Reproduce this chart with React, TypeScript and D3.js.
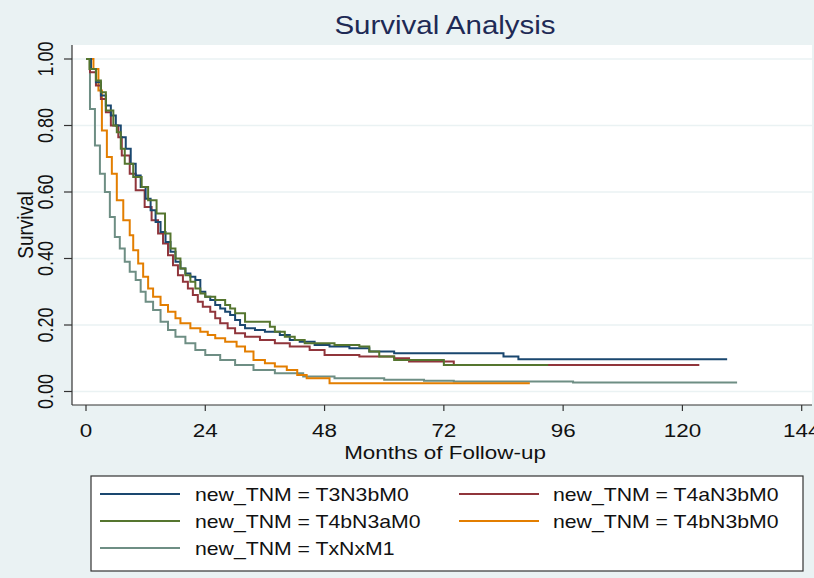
import React from "react";
import * as d3 from "d3";

// ---------- data ----------
const seriesNames = [
  "new_TNM = T3N3bM0",
  "new_TNM = T4aN3bM0",
  "new_TNM = T4bN3aM0",
  "new_TNM = T4bN3bM0",
  "new_TNM = TxNxM1",
];
const seriesColors = ["#1a476f", "#90353b", "#55752f", "#e37e00", "#6e8e84"];

const blueT = [0, 1, 2, 3, 4, 5, 6, 7, 8, 9, 10, 11, 12, 13, 14, 15, 16, 17, 18, 19, 20, 21, 22, 23, 24, 25, 26, 27, 28, 29, 30, 31, 32, 34, 36, 39, 41, 43, 46, 49, 53, 57, 62, 84, 87, 129];
const blueS = [1, 0.97, 0.93, 0.89, 0.86, 0.83, 0.8, 0.765, 0.73, 0.685, 0.65, 0.615, 0.58, 0.545, 0.51, 0.48, 0.45, 0.42, 0.39, 0.37, 0.355, 0.345, 0.335, 0.3, 0.285, 0.275, 0.26, 0.25, 0.24, 0.23, 0.215, 0.2, 0.19, 0.185, 0.18, 0.17, 0.155, 0.15, 0.14, 0.135, 0.13, 0.12, 0.115, 0.105, 0.097, 0.097];

const redT = [0, 0.8, 2, 3, 4, 5, 6.5, 7.2, 8.8, 10, 11.8, 13.2, 14.5, 15.5, 16.5, 17.5, 18.5, 19.5, 20.5, 21.5, 22.5, 23.5, 25, 26, 27, 28.5, 30, 32, 35, 38, 41, 45, 48, 55, 62, 65, 74, 123.4];
const redS = [1, 0.96, 0.92, 0.88, 0.84, 0.8, 0.765, 0.71, 0.655, 0.605, 0.555, 0.515, 0.475, 0.445, 0.41, 0.38, 0.35, 0.33, 0.31, 0.29, 0.27, 0.255, 0.24, 0.22, 0.205, 0.19, 0.175, 0.165, 0.155, 0.145, 0.135, 0.125, 0.11, 0.105, 0.1, 0.09, 0.08, 0.08];

const greenT = [0, 0.7, 2, 3, 4, 5.5, 6.2, 7, 7.8, 9.5, 11.2, 12.5, 14.2, 15.9, 17, 18, 19, 20, 21, 22, 23, 24, 26, 28, 29, 30, 32, 37, 38, 40, 42, 44, 50, 55, 57, 59, 62, 72, 93];
const greenS = [1, 0.97, 0.935, 0.9, 0.845, 0.8, 0.78, 0.73, 0.685, 0.645, 0.615, 0.575, 0.535, 0.475, 0.43, 0.4, 0.37, 0.35, 0.33, 0.31, 0.295, 0.285, 0.275, 0.26, 0.25, 0.235, 0.21, 0.195, 0.18, 0.165, 0.155, 0.145, 0.14, 0.135, 0.12, 0.105, 0.095, 0.08, 0.08];

const orangeT = [0, 1.5, 2.5, 3.2, 4.2, 5.2, 6.2, 7.5, 8.8, 9.5, 10.5, 11.5, 12.5, 13.5, 15, 16.5, 18, 19, 21, 23, 24.5, 26, 28, 30.3, 32, 33.7, 36, 38, 40.4, 42.5, 44.4, 49, 89.3];
const orangeS = [1, 0.97, 0.905, 0.785, 0.705, 0.655, 0.575, 0.515, 0.47, 0.425, 0.385, 0.345, 0.31, 0.285, 0.26, 0.24, 0.22, 0.205, 0.19, 0.18, 0.17, 0.16, 0.15, 0.135, 0.12, 0.095, 0.085, 0.075, 0.065, 0.05, 0.04, 0.025, 0.025];

const grayT = [0, 0.8, 1.8, 2.8, 3.8, 4.8, 5.8, 6.8, 7.8, 8.8, 10, 11, 12, 13.5, 15, 16.5, 18, 20, 22, 24, 27, 30, 33.7, 38, 43.7, 50, 60, 68, 74, 98, 131];
const grayS = [1, 0.85, 0.74, 0.655, 0.6, 0.525, 0.465, 0.43, 0.39, 0.36, 0.335, 0.3, 0.27, 0.245, 0.21, 0.185, 0.165, 0.145, 0.125, 0.11, 0.095, 0.08, 0.065, 0.055, 0.045, 0.04, 0.035, 0.032, 0.03, 0.027, 0.027];

const xTicks = [0, 24, 48, 72, 96, 120, 144];
const yTicks = [0, 0.2, 0.4, 0.6, 0.8, 1.0];

const titleText = "Survival Analysis";
const xTitle = "Months of Follow-up";
const yTitle = "Survival";

// ---------- layout ----------
const W = 814;
const H = 578;
const SX = 1.18; // horizontal stretch of the reference image
const FONT = "Arial, 'Liberation Sans', sans-serif";
const BG = "#eaf2f3";

const plotLeft = 72;
const plotRight = 812;
const plotTop = 45;
const plotBottom = 405;

const x = d3.scaleLinear().domain([0, 144]).range([86, 801.7]);
const y = d3.scaleLinear().domain([0, 1]).range([391.5, 59]);

const series = [
  { t: blueT, s: blueS },
  { t: redT, s: redS },
  { t: greenT, s: greenS },
  { t: orangeT, s: orangeS },
  { t: grayT, s: grayS },
];
const drawOrder = [4, 3, 1, 0, 2];

const line = d3
  .line<[number, number]>()
  .x((d) => x(d[0]))
  .y((d) => y(d[1]))
  .curve(d3.curveStepAfter);

function SText(props: {
  x: number;
  y: number;
  size: number;
  anchor?: string;
  rotate?: number;
  fill?: string;
  children: React.ReactNode;
}) {
  const { x: tx, y: ty, size, anchor = "middle", rotate = 0, fill = "#111" } = props;
  return (
    <g transform={`translate(${tx},${ty}) scale(${SX},1) rotate(${rotate})`}>
      <text x={0} y={0} fontSize={size} fontFamily={FONT} textAnchor={anchor} fill={fill}>
        {props.children}
      </text>
    </g>
  );
}

export default function App() {
  const legendItems = [
    { i: 0, col: 0, row: 0 },
    { i: 1, col: 1, row: 0 },
    { i: 2, col: 0, row: 1 },
    { i: 3, col: 1, row: 1 },
    { i: 4, col: 0, row: 2 },
  ];
  const colLineX = [100, 459];
  const colTextX = [195, 553];
  const rowY = [494, 521, 548];

  return (
    <svg
      width={W}
      height={H}
      style={{ position: "absolute", left: 0, top: 0, display: "block" }}
    >
      <rect x={0} y={0} width={W} height={H} fill={BG} />
      <rect x={plotLeft} y={plotTop} width={plotRight - plotLeft} height={plotBottom - plotTop} fill="#fff" />

      {/* gridlines */}
      {yTicks.map((v) => (
        <line key={"g" + v} x1={plotLeft} x2={plotRight} y1={y(v)} y2={y(v)} stroke={BG} strokeWidth={1.5} />
      ))}

      {/* curves */}
      {drawOrder.map((k) => {
        const d = series[k].t.map((t, j) => [t, series[k].s[j]] as [number, number]);
        return (
          <path key={"c" + k} d={line(d) || ""} fill="none" stroke={seriesColors[k]} strokeWidth={2} />
        );
      })}

      {/* axes */}
      <line x1={plotLeft} x2={plotLeft} y1={plotTop} y2={plotBottom} stroke="#333" strokeWidth={1.2} />
      <line x1={plotLeft} x2={plotRight} y1={plotBottom} y2={plotBottom} stroke="#333" strokeWidth={1.2} />
      {yTicks.map((v) => (
        <g key={"yt" + v}>
          <line x1={64} x2={plotLeft} y1={y(v)} y2={y(v)} stroke="#333" strokeWidth={1.2} />
          <SText x={53} y={y(v)} size={18} rotate={-90}>
            {v.toFixed(2)}
          </SText>
        </g>
      ))}
      {xTicks.map((v) => (
        <g key={"xt" + v}>
          <line x1={x(v)} x2={x(v)} y1={plotBottom} y2={plotBottom + 6} stroke="#333" strokeWidth={1.2} />
          <SText x={x(v)} y={437} size={19}>
            {v}
          </SText>
        </g>
      ))}

      {/* titles */}
      <SText x={445} y={34} size={25} fill="#1e2a55">
        {titleText}
      </SText>
      <SText x={445} y={459} size={19}>
        {xTitle}
      </SText>
      <SText x={33} y={225} size={19} rotate={-90}>
        {yTitle}
      </SText>

      {/* legend */}
      <rect x={91} y={476} width={712} height={95} fill="#fff" stroke="#333" strokeWidth={1.2} />
      {legendItems.map((it) => (
        <g key={"l" + it.i}>
          <line
            x1={colLineX[it.col]}
            x2={colLineX[it.col] + 80}
            y1={rowY[it.row]}
            y2={rowY[it.row]}
            stroke={seriesColors[it.i]}
            strokeWidth={2}
          />
          <SText x={colTextX[it.col]} y={rowY[it.row] + 6.5} size={18} anchor="start">
            {seriesNames[it.i]}
          </SText>
        </g>
      ))}
    </svg>
  );
}
